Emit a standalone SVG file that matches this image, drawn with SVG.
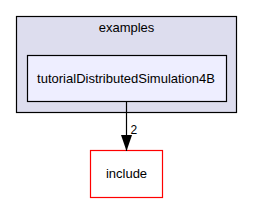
<svg xmlns="http://www.w3.org/2000/svg" width="253" height="204" viewBox="0 0 253 204">
<style>
text{font-family:"Liberation Sans",Arial,sans-serif;font-size:13px;fill:#000}
</style>
<defs>
<marker id="ah" markerWidth="16" markerHeight="11" refX="16" refY="5.5" orient="auto" markerUnits="userSpaceOnUse" viewBox="0 0 16 11">
<path d="M0,0 L16,5.5 L0,11 Z" fill="#000"/>
</marker>
</defs>
<rect width="253" height="204" fill="#fff"/>
<g id="cluster_examples">
<rect x="16.5" y="16.5" width="220" height="96" fill="#ddddee" stroke="#000" stroke-width="1.2"/>
<text x="126.5" y="32" text-anchor="middle">examples</text>
</g>
<g id="node_tutorial">
<rect x="27.5" y="55.5" width="199" height="46" fill="#eeeeff" stroke="#000" stroke-width="1.2"/>
<text x="126" y="83" text-anchor="middle">tutorialDistributedSimulation4B</text>
</g>
<g id="node_include">
<rect x="90.5" y="150.5" width="72" height="47" fill="#fff" stroke="#ff0000" stroke-width="1.2"/>
<text x="126.5" y="178" text-anchor="middle">include</text>
</g>
<g id="connectors">
<path d="M126.5,102 L126.5,151" stroke="#000" stroke-width="1.2" fill="none" marker-end="url(#ah)"/>
<text x="130.5" y="134" style="font-size:12px">2</text>
</g>
</svg>
